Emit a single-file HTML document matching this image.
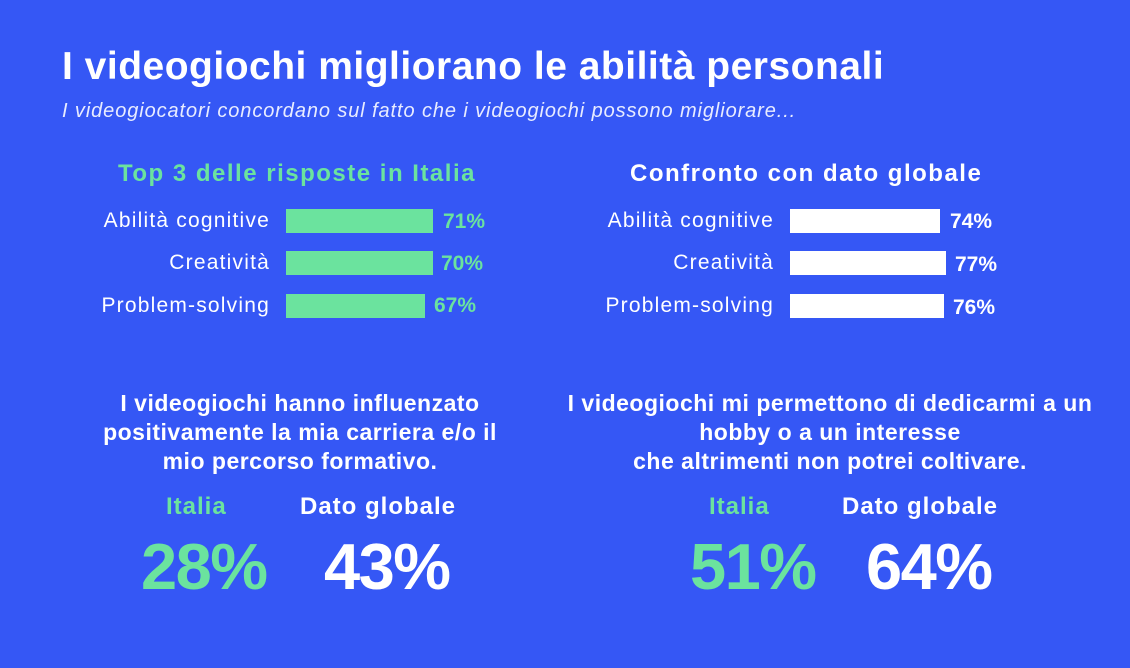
<!DOCTYPE html>
<html><head><meta charset="utf-8"><style>
body{margin:0;width:1130px;height:668px;background:#3557F5;font-family:"Liberation Sans",sans-serif;color:#fff;position:relative;overflow:hidden}
div{position:absolute;white-space:nowrap}
.t{left:62px;top:45px;font-size:39px;font-weight:bold;letter-spacing:0.5px}
.s{left:62px;top:100px;font-size:20px;font-style:italic;color:#e8ecff;letter-spacing:0.9px}
.h{font-size:24px;font-weight:bold;letter-spacing:1.5px}
.g{color:#6BE39E}
.lab{font-size:21px;text-align:right;width:200px;letter-spacing:1.2px}
.bar{height:24px}
.v{font-size:21px;font-weight:bold}
.q{font-size:23px;font-weight:bold;text-align:center;line-height:29px;letter-spacing:0.5px}
.big{font-size:65px;font-weight:bold;letter-spacing:-1.5px;line-height:65px}
.sm{font-size:24px;font-weight:bold;letter-spacing:1px}
</style></head><body>
<div class="t">I videogiochi migliorano le abilità personali</div>
<div class="s">I videogiocatori concordano sul fatto che i videogiochi possono migliorare...</div>

<div class="h g" style="left:118px;top:160px">Top 3 delle risposte in Italia</div>
<div class="lab" style="left:70px;top:209px">Abilità cognitive</div>
<div class="lab" style="left:70px;top:251px">Creatività</div>
<div class="lab" style="left:70px;top:294px">Problem-solving</div>
<div class="bar" style="left:286px;top:209px;width:147px;background:#6BE39E"></div>
<div class="bar" style="left:286px;top:251px;width:147px;background:#6BE39E"></div>
<div class="bar" style="left:286px;top:294px;width:139px;background:#6BE39E"></div>
<div class="v g" style="left:443px;top:210px">71%</div>
<div class="v g" style="left:441px;top:252px">70%</div>
<div class="v g" style="left:434px;top:294px">67%</div>

<div class="h" style="left:630px;top:160px">Confronto con dato globale</div>
<div class="lab" style="left:574px;top:209px">Abilità cognitive</div>
<div class="lab" style="left:574px;top:251px">Creatività</div>
<div class="lab" style="left:574px;top:294px">Problem-solving</div>
<div class="bar" style="left:790px;top:209px;width:150px;background:#fff"></div>
<div class="bar" style="left:790px;top:251px;width:156px;background:#fff"></div>
<div class="bar" style="left:790px;top:294px;width:154px;background:#fff"></div>
<div class="v" style="left:950px;top:210px">74%</div>
<div class="v" style="left:955px;top:253px">77%</div>
<div class="v" style="left:953px;top:296px">76%</div>

<div class="q" style="left:50px;width:500px;top:389px">I videogiochi hanno influenzato<br>positivamente la mia carriera e/o il<br>mio percorso formativo.</div>
<div class="q" style="left:530px;width:600px;top:389px">I videogiochi mi permettono di dedicarmi a un<br>hobby o a un interesse<br>che altrimenti non potrei coltivare.</div>

<div class="sm g" style="left:166px;top:493px">Italia</div>
<div class="sm" style="left:300px;top:493px">Dato globale</div>
<div class="big g" style="left:141px;top:534px">28%</div>
<div class="big" style="left:324px;top:534px">43%</div>

<div class="sm g" style="left:709px;top:493px">Italia</div>
<div class="sm" style="left:842px;top:493px">Dato globale</div>
<div class="big g" style="left:690px;top:534px">51%</div>
<div class="big" style="left:866px;top:534px">64%</div>
</body></html>
